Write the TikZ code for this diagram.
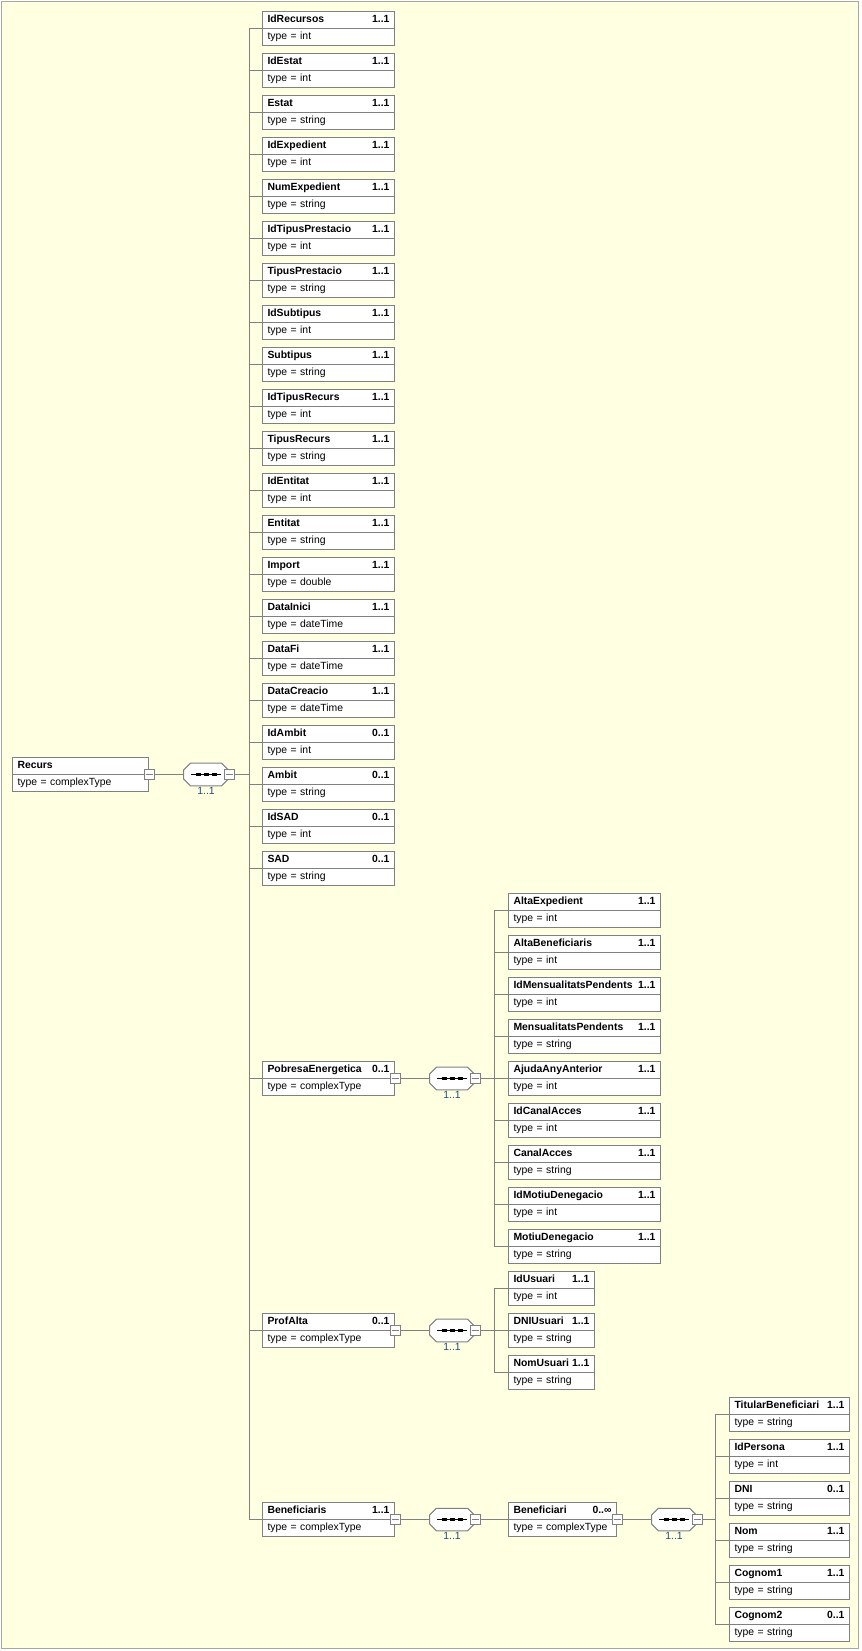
\documentclass[tikz,border=0pt]{standalone}
\usepackage{fontspec}
\setmainfont{Liberation Sans}
\usetikzlibrary{shapes,positioning,calc}

\definecolor{bgyellow}{HTML}{FFFFE1}
\definecolor{boxgray}{HTML}{808080}
\definecolor{framegray}{HTML}{A8A8A0}
\definecolor{cardblue}{HTML}{1F4F80}

\begin{document}
\begin{tikzpicture}[x=0.75pt, y=-0.75pt,
    elem/.style={rectangle split, rectangle split parts=2, draw=boxgray, fill=white, line width=0.75pt,
        inner xsep=3.75pt, inner ysep=0.5pt, text width=#1, anchor=north west,
        font=\fontsize{7.8}{11}\selectfont\strut},
    seq/.style={rectangle, minimum width=33pt, minimum height=16.5pt, inner sep=0pt,
        append after command={\pgfextra{
            \draw[draw=boxgray, fill=white, line width=0.75pt]
                ([xshift=5pt]\tikzlastnode.north west) -- ([xshift=-5pt]\tikzlastnode.north east)
                -- ([yshift=-5pt]\tikzlastnode.north east) -- ([yshift=5pt]\tikzlastnode.south east)
                -- ([xshift=-5pt]\tikzlastnode.south east) -- ([xshift=5pt]\tikzlastnode.south west)
                -- ([yshift=5pt]\tikzlastnode.south west) -- ([yshift=-5pt]\tikzlastnode.north west) -- cycle;
            \draw[black, line width=0.75pt] (\tikzlastnode.center) +(-15,0) -- +(15,0);
            \foreach \d in {-8,0,8}
                \fill[black] (\tikzlastnode.center) +(\d-2.5,-1.5) rectangle +(\d+2.5,1.5);
        }}},
    minus/.style={rectangle, draw=boxgray, fill=white, line width=0.75pt, minimum size=7.5pt, inner sep=0pt,
        path picture={\draw[boxgray, line width=0.75pt] (path picture bounding box.center) +(-3.5,0) -- +(3.5,0);}},
    seqlbl/.style={font=\fontsize{7.8}{9}\selectfont, text=cardblue, inner sep=1pt},
    link/.style={draw=boxgray, line width=0.75pt}
]
    \useasboundingbox (0,0) rectangle (861,1651);
    \draw[draw=framegray, fill=bgyellow, line width=0.75pt] (1.5,1.5) rectangle (858,1648);

    % Root
    \node[elem=94.5pt] (recurs) at (12,757) {\textbf{Recurs}\nodepart{two}type = complexType};
    \node[minus] (mrecurs) at (recurs.text split east) {};

    % Sequence of Recurs
    \node[seq] (seq0) at ($(mrecurs)+(57,0)$) {};
    \node[minus] (mseq0) at ($(seq0.east)+(1,0)$) {};
    \node[seqlbl, below=0pt of seq0] (lbl0) {1..1};
    \coordinate (bus0) at ($(seq0)+(43,0)$);
    \draw[link] (mrecurs) -- (seq0);
    \draw[link] (mseq0) -- (bus0);

    % Elements of Recurs
    \node[elem=91.5pt] (idrecursos) at (262,11) {\textbf{IdRecursos}\hfill\textbf{1..1}\nodepart{two}type = int};
    \node[elem=91.5pt] (idestat) at (262,53) {\textbf{IdEstat}\hfill\textbf{1..1}\nodepart{two}type = int};
    \node[elem=91.5pt] (estat) at (262,95) {\textbf{Estat}\hfill\textbf{1..1}\nodepart{two}type = string};
    \node[elem=91.5pt] (idexpedient) at (262,137) {\textbf{IdExpedient}\hfill\textbf{1..1}\nodepart{two}type = int};
    \node[elem=91.5pt] (numexpedient) at (262,179) {\textbf{NumExpedient}\hfill\textbf{1..1}\nodepart{two}type = string};
    \node[elem=91.5pt] (idtipusprestacio) at (262,221) {\textbf{IdTipusPrestacio}\hfill\textbf{1..1}\nodepart{two}type = int};
    \node[elem=91.5pt] (tipusprestacio) at (262,263) {\textbf{TipusPrestacio}\hfill\textbf{1..1}\nodepart{two}type = string};
    \node[elem=91.5pt] (idsubtipus) at (262,305) {\textbf{IdSubtipus}\hfill\textbf{1..1}\nodepart{two}type = int};
    \node[elem=91.5pt] (subtipus) at (262,347) {\textbf{Subtipus}\hfill\textbf{1..1}\nodepart{two}type = string};
    \node[elem=91.5pt] (idtipusrecurs) at (262,389) {\textbf{IdTipusRecurs}\hfill\textbf{1..1}\nodepart{two}type = int};
    \node[elem=91.5pt] (tipusrecurs) at (262,431) {\textbf{TipusRecurs}\hfill\textbf{1..1}\nodepart{two}type = string};
    \node[elem=91.5pt] (identitat) at (262,473) {\textbf{IdEntitat}\hfill\textbf{1..1}\nodepart{two}type = int};
    \node[elem=91.5pt] (entitat) at (262,515) {\textbf{Entitat}\hfill\textbf{1..1}\nodepart{two}type = string};
    \node[elem=91.5pt] (import) at (262,557) {\textbf{Import}\hfill\textbf{1..1}\nodepart{two}type = double};
    \node[elem=91.5pt] (datainici) at (262,599) {\textbf{DataInici}\hfill\textbf{1..1}\nodepart{two}type = dateTime};
    \node[elem=91.5pt] (datafi) at (262,641) {\textbf{DataFi}\hfill\textbf{1..1}\nodepart{two}type = dateTime};
    \node[elem=91.5pt] (datacreacio) at (262,683) {\textbf{DataCreacio}\hfill\textbf{1..1}\nodepart{two}type = dateTime};
    \node[elem=91.5pt] (idambit) at (262,725) {\textbf{IdAmbit}\hfill\textbf{0..1}\nodepart{two}type = int};
    \node[elem=91.5pt] (ambit) at (262,767) {\textbf{Ambit}\hfill\textbf{0..1}\nodepart{two}type = string};
    \node[elem=91.5pt] (idsad) at (262,809) {\textbf{IdSAD}\hfill\textbf{0..1}\nodepart{two}type = int};
    \node[elem=91.5pt] (sad) at (262,851) {\textbf{SAD}\hfill\textbf{0..1}\nodepart{two}type = string};
    \node[elem=91.5pt] (pobresa) at (262,1061) {\textbf{PobresaEnergetica}\hfill\textbf{0..1}\nodepart{two}type = complexType};
    \node[elem=91.5pt] (profalta) at (262,1313) {\textbf{ProfAlta}\hfill\textbf{0..1}\nodepart{two}type = complexType};
    \node[elem=91.5pt] (beneficiaris) at (262,1502) {\textbf{Beneficiaris}\hfill\textbf{1..1}\nodepart{two}type = complexType};

    \foreach \n in {idrecursos,idestat,estat,idexpedient,numexpedient,idtipusprestacio,tipusprestacio,
        idsubtipus,subtipus,idtipusrecurs,tipusrecurs,identitat,entitat,import,datainici,datafi,
        datacreacio,idambit,ambit,idsad,sad,pobresa,profalta,beneficiaris}
        \draw[link] (bus0) |- (\n.text split west);

    % PobresaEnergetica
    \node[minus] (mpobresa) at (pobresa.text split east) {};
    \node[seq] (seqpobresa) at ($(mpobresa)+(57,0)$) {};
    \node[minus] (mseqpobresa) at ($(seqpobresa.east)+(1,0)$) {};
    \node[seqlbl, below=0pt of seqpobresa] (lblpobresa) {1..1};
    \coordinate (buspobresa) at ($(seqpobresa)+(42,0)$);
    \draw[link] (mpobresa) -- (seqpobresa);
    \draw[link] (mseqpobresa) -- (buspobresa);

    \node[elem=106.5pt] (altaexpedient) at (508,893) {\textbf{AltaExpedient}\hfill\textbf{1..1}\nodepart{two}type = int};
    \node[elem=106.5pt] (altabeneficiaris) at (508,935) {\textbf{AltaBeneficiaris}\hfill\textbf{1..1}\nodepart{two}type = int};
    \node[elem=106.5pt] (idmensualitats) at (508,977) {\textbf{IdMensualitatsPendents}\hfill\textbf{1..1}\nodepart{two}type = int};
    \node[elem=106.5pt] (mensualitats) at (508,1019) {\textbf{MensualitatsPendents}\hfill\textbf{1..1}\nodepart{two}type = string};
    \node[elem=106.5pt] (ajuda) at (508,1061) {\textbf{AjudaAnyAnterior}\hfill\textbf{1..1}\nodepart{two}type = int};
    \node[elem=106.5pt] (idcanal) at (508,1103) {\textbf{IdCanalAcces}\hfill\textbf{1..1}\nodepart{two}type = int};
    \node[elem=106.5pt] (canal) at (508,1145) {\textbf{CanalAcces}\hfill\textbf{1..1}\nodepart{two}type = string};
    \node[elem=106.5pt] (idmotiu) at (508,1187) {\textbf{IdMotiuDenegacio}\hfill\textbf{1..1}\nodepart{two}type = int};
    \node[elem=106.5pt] (motiu) at (508,1229) {\textbf{MotiuDenegacio}\hfill\textbf{1..1}\nodepart{two}type = string};

    \foreach \n in {altaexpedient,altabeneficiaris,idmensualitats,mensualitats,ajuda,idcanal,canal,idmotiu,motiu}
        \draw[link] (buspobresa) |- (\n.text split west);

    % ProfAlta
    \node[minus] (mprofalta) at (profalta.text split east) {};
    \node[seq] (seqprofalta) at ($(mprofalta)+(57,0)$) {};
    \node[minus] (mseqprofalta) at ($(seqprofalta.east)+(1,0)$) {};
    \node[seqlbl, below=0pt of seqprofalta] (lblprofalta) {1..1};
    \coordinate (busprofalta) at ($(seqprofalta)+(42,0)$);
    \draw[link] (mprofalta) -- (seqprofalta);
    \draw[link] (mseqprofalta) -- (busprofalta);

    \node[elem=57pt] (idusuari) at (508,1271) {\textbf{IdUsuari}\hfill\textbf{1..1}\nodepart{two}type = int};
    \node[elem=57pt] (dniusuari) at (508,1313) {\textbf{DNIUsuari}\hfill\textbf{1..1}\nodepart{two}type = string};
    \node[elem=57pt] (nomusuari) at (508,1355) {\textbf{NomUsuari}\hfill\textbf{1..1}\nodepart{two}type = string};

    \foreach \n in {idusuari,dniusuari,nomusuari}
        \draw[link] (busprofalta) |- (\n.text split west);

    % Beneficiaris
    \node[minus] (mbeneficiaris) at (beneficiaris.text split east) {};
    \node[seq] (seqbeneficiaris) at ($(mbeneficiaris)+(57,0)$) {};
    \node[minus] (mseqbeneficiaris) at ($(seqbeneficiaris.east)+(1,0)$) {};
    \node[seqlbl, below=0pt of seqbeneficiaris] (lblbeneficiaris) {1..1};
    \draw[link] (mbeneficiaris) -- (seqbeneficiaris);

    \node[elem=73.5pt] (beneficiari) at (508,1502) {\textbf{Beneficiari}\hfill\textbf{0..∞}\nodepart{two}type = complexType};
    \draw[link] (mseqbeneficiaris) -- (beneficiari.text split west);

    % Beneficiari
    \node[minus] (mbeneficiari) at (beneficiari.text split east) {};
    \node[seq] (seqbeneficiari) at ($(mbeneficiari)+(57,0)$) {};
    \node[minus] (mseqbeneficiari) at ($(seqbeneficiari.east)+(1,0)$) {};
    \node[seqlbl, below=0pt of seqbeneficiari] (lblbeneficiari) {1..1};
    \coordinate (busbeneficiari) at ($(seqbeneficiari)+(41,0)$);
    \draw[link] (mbeneficiari) -- (seqbeneficiari);
    \draw[link] (mseqbeneficiari) -- (busbeneficiari);

    \node[elem=82.5pt] (titular) at (729,1397) {\textbf{TitularBeneficiari}\hfill\textbf{1..1}\nodepart{two}type = string};
    \node[elem=82.5pt] (idpersona) at (729,1439) {\textbf{IdPersona}\hfill\textbf{1..1}\nodepart{two}type = int};
    \node[elem=82.5pt] (dni) at (729,1481) {\textbf{DNI}\hfill\textbf{0..1}\nodepart{two}type = string};
    \node[elem=82.5pt] (nom) at (729,1523) {\textbf{Nom}\hfill\textbf{1..1}\nodepart{two}type = string};
    \node[elem=82.5pt] (cognom1) at (729,1565) {\textbf{Cognom1}\hfill\textbf{1..1}\nodepart{two}type = string};
    \node[elem=82.5pt] (cognom2) at (729,1607) {\textbf{Cognom2}\hfill\textbf{0..1}\nodepart{two}type = string};

    \foreach \n in {titular,idpersona,dni,nom,cognom1,cognom2}
        \draw[link] (busbeneficiari) |- (\n.text split west);
\end{tikzpicture}
\end{document}
